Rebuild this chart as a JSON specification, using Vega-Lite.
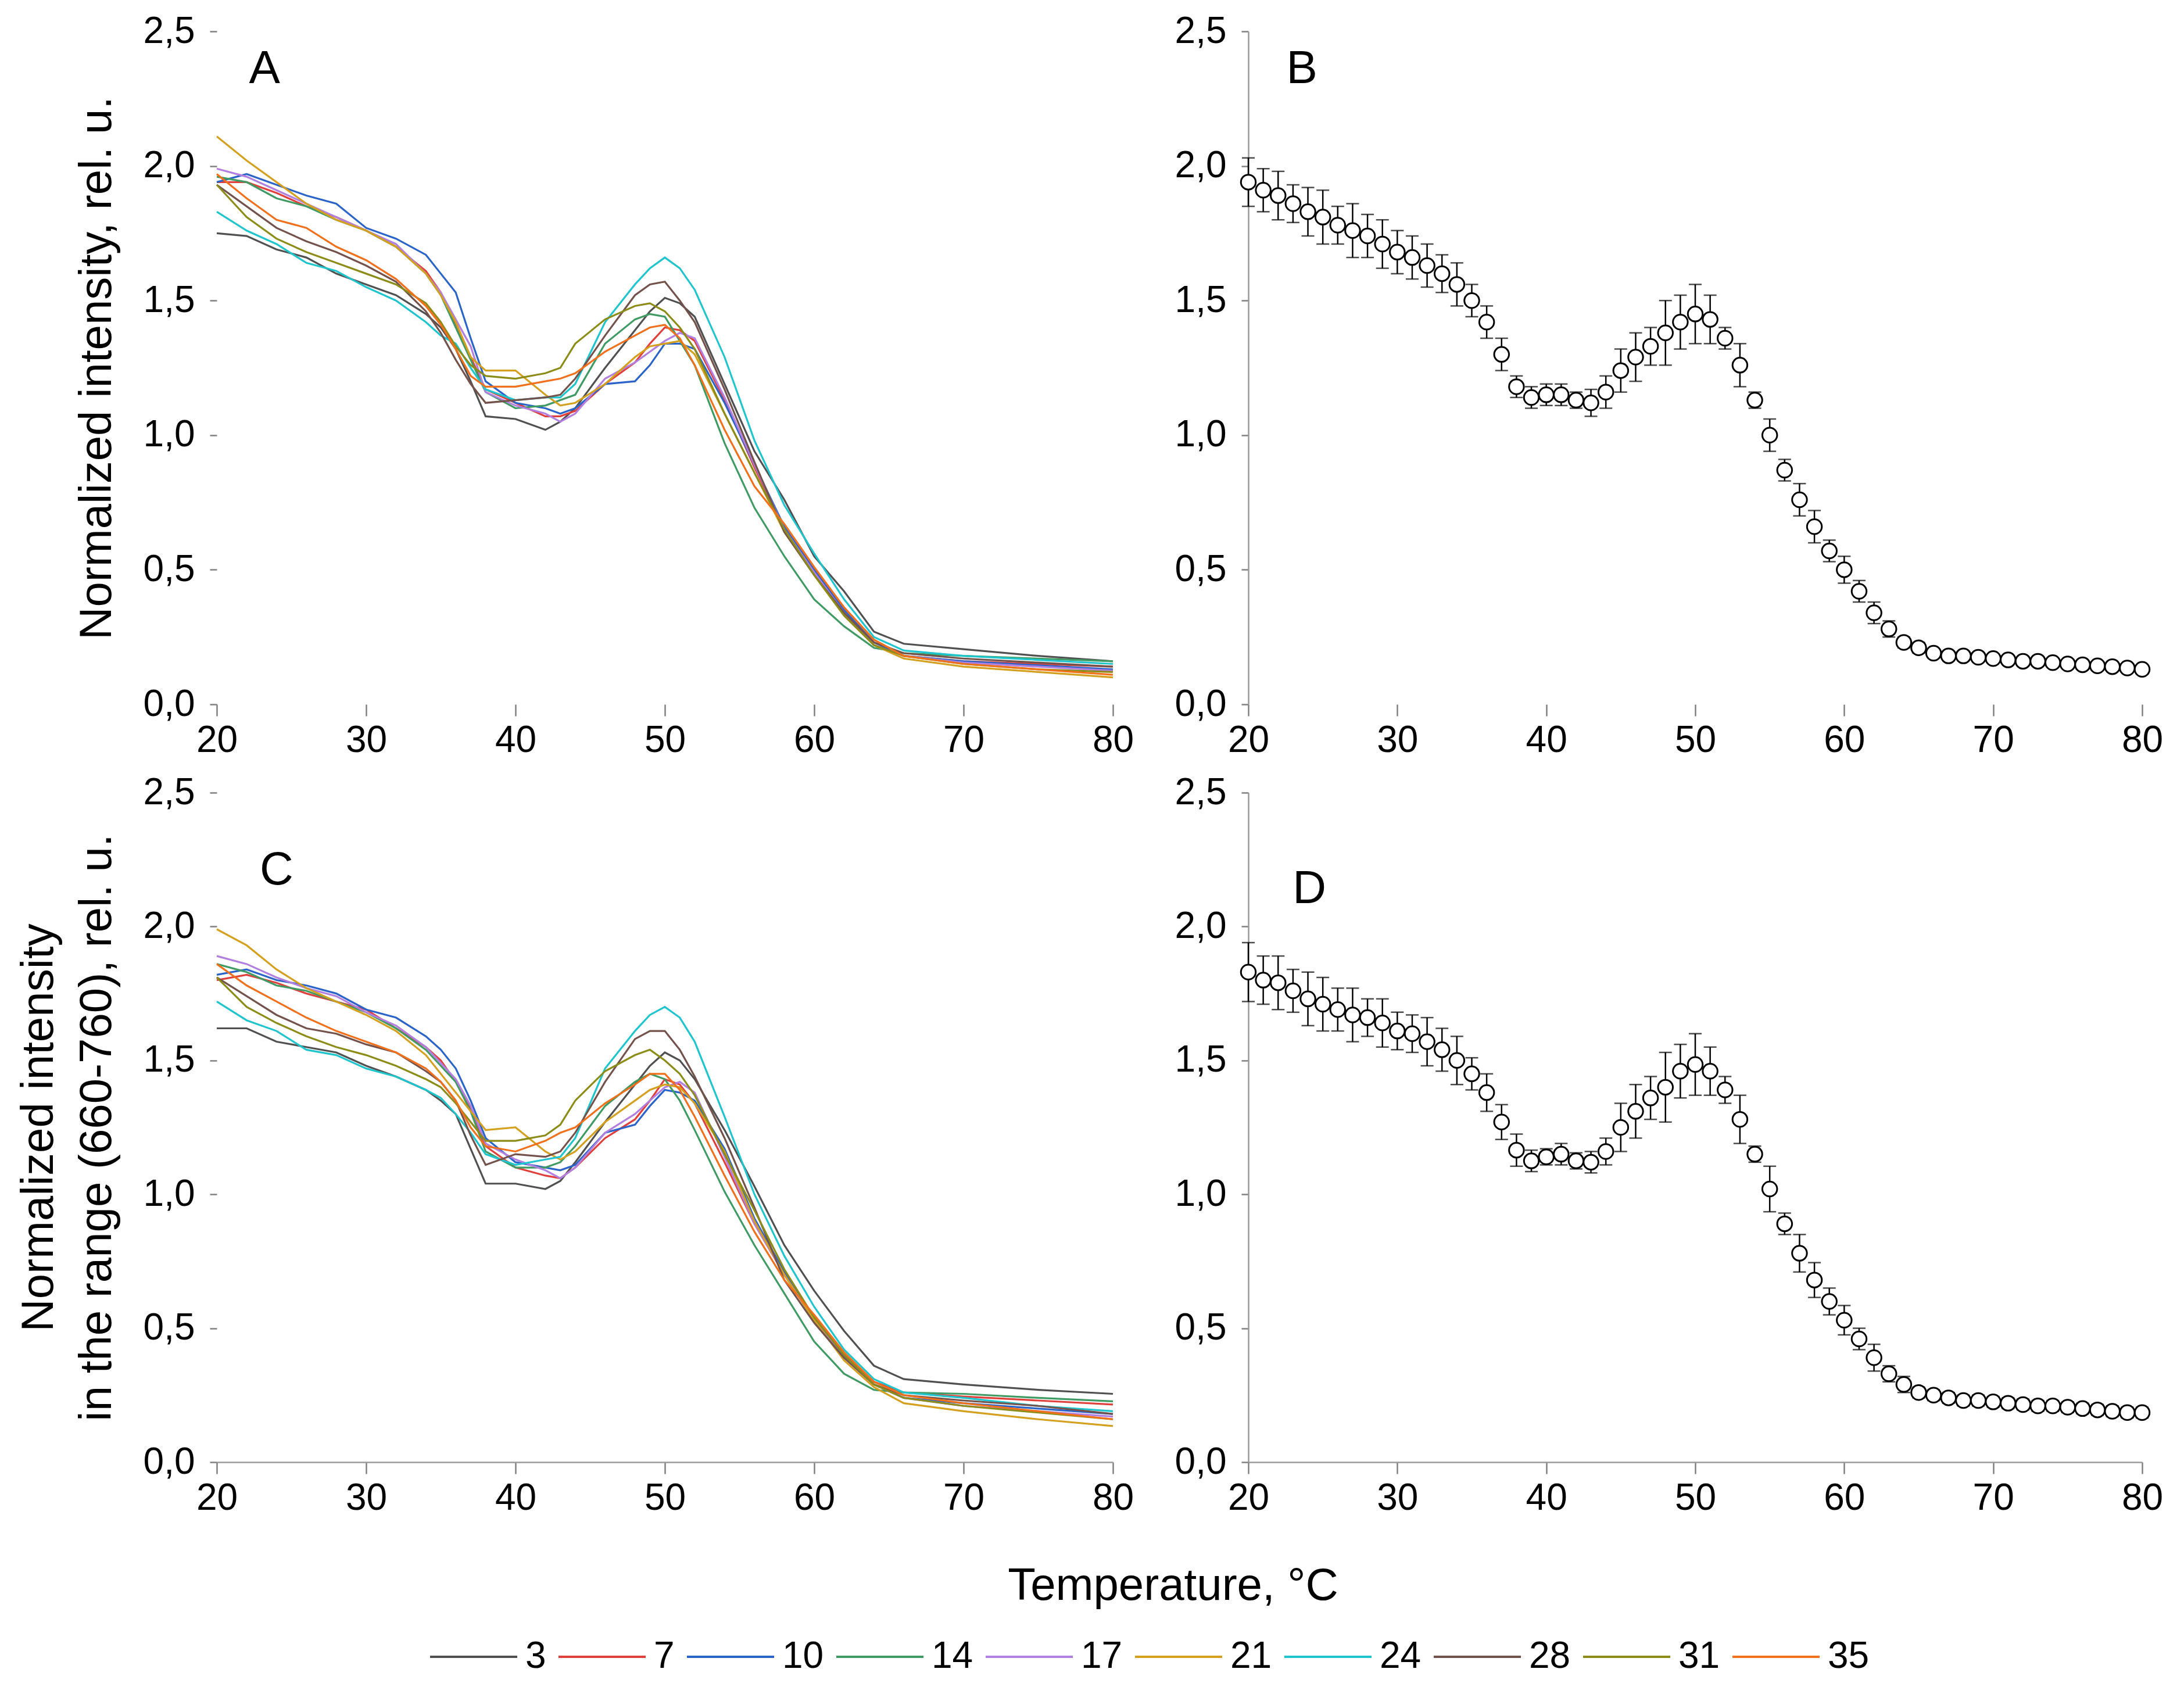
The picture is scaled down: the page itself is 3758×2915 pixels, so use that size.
{
"$schema":"https://vega.github.io/schema/vega-lite/v6.json",
"background":"white",
"padding":{"left":28,"top":22,"right":10,"bottom":10},
"config":{"font":"Liberation Sans","view":{"stroke":null},
"axis":{"labelFont":"Liberation Sans","labelFontSize":64,"labelColor":"#000","titleFont":"Liberation Sans","titleFontSize":78,"titleFontWeight":"normal","titleColor":"#000","grid":false,"tickColor":"#808080","domainColor":"#9a9a9a","tickWidth":2.5,"domainWidth":2.5,"labelFlush":false,"labelOverlap":false}},
"datasets":{
"lA":[
{"s":"3","t":20,"v":1.75},{"s":"3","t":22,"v":1.74},{"s":"3","t":24,"v":1.69},{"s":"3","t":26,"v":1.66},{"s":"3","t":28,"v":1.60},{"s":"3","t":30,"v":1.56},{"s":"3","t":32,"v":1.52},{"s":"3","t":34,"v":1.45},{"s":"3","t":35,"v":1.40},{"s":"3","t":36,"v":1.32},{"s":"3","t":37,"v":1.20},{"s":"3","t":38,"v":1.07},{"s":"3","t":40,"v":1.06},{"s":"3","t":42,"v":1.02},{"s":"3","t":43,"v":1.05},{"s":"3","t":44,"v":1.10},{"s":"3","t":46,"v":1.25},{"s":"3","t":48,"v":1.39},{"s":"3","t":49,"v":1.46},{"s":"3","t":50,"v":1.51},{"s":"3","t":51,"v":1.49},{"s":"3","t":52,"v":1.44},{"s":"3","t":54,"v":1.19},{"s":"3","t":56,"v":0.94},{"s":"3","t":58,"v":0.76},{"s":"3","t":60,"v":0.55},{"s":"3","t":62,"v":0.42},{"s":"3","t":64,"v":0.27},{"s":"3","t":66,"v":0.225},{"s":"3","t":70,"v":0.205},{"s":"3","t":75,"v":0.18},{"s":"3","t":80,"v":0.16},
{"s":"7","t":20,"v":1.94},{"s":"7","t":22,"v":1.94},{"s":"7","t":24,"v":1.90},{"s":"7","t":26,"v":1.85},{"s":"7","t":28,"v":1.81},{"s":"7","t":30,"v":1.76},{"s":"7","t":32,"v":1.70},{"s":"7","t":34,"v":1.61},{"s":"7","t":35,"v":1.53},{"s":"7","t":36,"v":1.41},{"s":"7","t":37,"v":1.29},{"s":"7","t":38,"v":1.17},{"s":"7","t":40,"v":1.12},{"s":"7","t":42,"v":1.07},{"s":"7","t":43,"v":1.07},{"s":"7","t":44,"v":1.09},{"s":"7","t":46,"v":1.19},{"s":"7","t":48,"v":1.27},{"s":"7","t":49,"v":1.34},{"s":"7","t":50,"v":1.40},{"s":"7","t":51,"v":1.39},{"s":"7","t":52,"v":1.35},{"s":"7","t":54,"v":1.13},{"s":"7","t":56,"v":0.88},{"s":"7","t":58,"v":0.65},{"s":"7","t":60,"v":0.50},{"s":"7","t":62,"v":0.36},{"s":"7","t":64,"v":0.24},{"s":"7","t":66,"v":0.18},{"s":"7","t":70,"v":0.16},{"s":"7","t":75,"v":0.15},{"s":"7","t":80,"v":0.14},
{"s":"10","t":20,"v":1.94},{"s":"10","t":22,"v":1.97},{"s":"10","t":24,"v":1.93},{"s":"10","t":26,"v":1.89},{"s":"10","t":28,"v":1.86},{"s":"10","t":30,"v":1.77},{"s":"10","t":32,"v":1.73},{"s":"10","t":34,"v":1.67},{"s":"10","t":35,"v":1.60},{"s":"10","t":36,"v":1.53},{"s":"10","t":37,"v":1.36},{"s":"10","t":38,"v":1.20},{"s":"10","t":40,"v":1.12},{"s":"10","t":42,"v":1.10},{"s":"10","t":43,"v":1.08},{"s":"10","t":44,"v":1.10},{"s":"10","t":46,"v":1.19},{"s":"10","t":48,"v":1.20},{"s":"10","t":49,"v":1.26},{"s":"10","t":50,"v":1.34},{"s":"10","t":51,"v":1.34},{"s":"10","t":52,"v":1.32},{"s":"10","t":54,"v":1.12},{"s":"10","t":56,"v":0.89},{"s":"10","t":58,"v":0.66},{"s":"10","t":60,"v":0.50},{"s":"10","t":62,"v":0.35},{"s":"10","t":64,"v":0.23},{"s":"10","t":66,"v":0.18},{"s":"10","t":70,"v":0.16},{"s":"10","t":75,"v":0.145},{"s":"10","t":80,"v":0.13},
{"s":"14","t":20,"v":1.96},{"s":"14","t":22,"v":1.94},{"s":"14","t":24,"v":1.88},{"s":"14","t":26,"v":1.85},{"s":"14","t":28,"v":1.80},{"s":"14","t":30,"v":1.76},{"s":"14","t":32,"v":1.70},{"s":"14","t":34,"v":1.60},{"s":"14","t":35,"v":1.52},{"s":"14","t":36,"v":1.40},{"s":"14","t":37,"v":1.28},{"s":"14","t":38,"v":1.16},{"s":"14","t":40,"v":1.10},{"s":"14","t":42,"v":1.11},{"s":"14","t":43,"v":1.13},{"s":"14","t":44,"v":1.15},{"s":"14","t":46,"v":1.34},{"s":"14","t":48,"v":1.43},{"s":"14","t":49,"v":1.45},{"s":"14","t":50,"v":1.44},{"s":"14","t":51,"v":1.35},{"s":"14","t":52,"v":1.26},{"s":"14","t":54,"v":0.97},{"s":"14","t":56,"v":0.73},{"s":"14","t":58,"v":0.55},{"s":"14","t":60,"v":0.39},{"s":"14","t":62,"v":0.29},{"s":"14","t":64,"v":0.21},{"s":"14","t":66,"v":0.19},{"s":"14","t":70,"v":0.18},{"s":"14","t":75,"v":0.17},{"s":"14","t":80,"v":0.16},
{"s":"17","t":20,"v":1.99},{"s":"17","t":22,"v":1.96},{"s":"17","t":24,"v":1.91},{"s":"17","t":26,"v":1.86},{"s":"17","t":28,"v":1.81},{"s":"17","t":30,"v":1.76},{"s":"17","t":32,"v":1.71},{"s":"17","t":34,"v":1.60},{"s":"17","t":35,"v":1.53},{"s":"17","t":36,"v":1.43},{"s":"17","t":37,"v":1.33},{"s":"17","t":38,"v":1.16},{"s":"17","t":40,"v":1.11},{"s":"17","t":42,"v":1.08},{"s":"17","t":43,"v":1.05},{"s":"17","t":44,"v":1.08},{"s":"17","t":46,"v":1.21},{"s":"17","t":48,"v":1.27},{"s":"17","t":49,"v":1.31},{"s":"17","t":50,"v":1.35},{"s":"17","t":51,"v":1.38},{"s":"17","t":52,"v":1.36},{"s":"17","t":54,"v":1.14},{"s":"17","t":56,"v":0.89},{"s":"17","t":58,"v":0.65},{"s":"17","t":60,"v":0.49},{"s":"17","t":62,"v":0.34},{"s":"17","t":64,"v":0.22},{"s":"17","t":66,"v":0.18},{"s":"17","t":70,"v":0.155},{"s":"17","t":75,"v":0.14},{"s":"17","t":80,"v":0.125},
{"s":"21","t":20,"v":2.11},{"s":"21","t":22,"v":2.02},{"s":"21","t":24,"v":1.94},{"s":"21","t":26,"v":1.86},{"s":"21","t":28,"v":1.80},{"s":"21","t":30,"v":1.76},{"s":"21","t":32,"v":1.70},{"s":"21","t":34,"v":1.60},{"s":"21","t":35,"v":1.52},{"s":"21","t":36,"v":1.42},{"s":"21","t":37,"v":1.29},{"s":"21","t":38,"v":1.24},{"s":"21","t":40,"v":1.24},{"s":"21","t":42,"v":1.15},{"s":"21","t":43,"v":1.11},{"s":"21","t":44,"v":1.12},{"s":"21","t":46,"v":1.19},{"s":"21","t":48,"v":1.29},{"s":"21","t":49,"v":1.33},{"s":"21","t":50,"v":1.34},{"s":"21","t":51,"v":1.35},{"s":"21","t":52,"v":1.30},{"s":"21","t":54,"v":1.08},{"s":"21","t":56,"v":0.86},{"s":"21","t":58,"v":0.64},{"s":"21","t":60,"v":0.48},{"s":"21","t":62,"v":0.33},{"s":"21","t":64,"v":0.22},{"s":"21","t":66,"v":0.17},{"s":"21","t":70,"v":0.14},{"s":"21","t":75,"v":0.12},{"s":"21","t":80,"v":0.10},
{"s":"24","t":20,"v":1.83},{"s":"24","t":22,"v":1.76},{"s":"24","t":24,"v":1.71},{"s":"24","t":26,"v":1.64},{"s":"24","t":28,"v":1.61},{"s":"24","t":30,"v":1.55},{"s":"24","t":32,"v":1.50},{"s":"24","t":34,"v":1.42},{"s":"24","t":35,"v":1.37},{"s":"24","t":36,"v":1.34},{"s":"24","t":37,"v":1.25},{"s":"24","t":38,"v":1.17},{"s":"24","t":40,"v":1.13},{"s":"24","t":42,"v":1.14},{"s":"24","t":43,"v":1.14},{"s":"24","t":44,"v":1.19},{"s":"24","t":46,"v":1.42},{"s":"24","t":48,"v":1.56},{"s":"24","t":49,"v":1.62},{"s":"24","t":50,"v":1.66},{"s":"24","t":51,"v":1.62},{"s":"24","t":52,"v":1.54},{"s":"24","t":54,"v":1.29},{"s":"24","t":56,"v":0.98},{"s":"24","t":58,"v":0.74},{"s":"24","t":60,"v":0.56},{"s":"24","t":62,"v":0.39},{"s":"24","t":64,"v":0.25},{"s":"24","t":66,"v":0.20},{"s":"24","t":70,"v":0.18},{"s":"24","t":75,"v":0.165},{"s":"24","t":80,"v":0.15},
{"s":"28","t":20,"v":1.93},{"s":"28","t":22,"v":1.85},{"s":"28","t":24,"v":1.77},{"s":"28","t":26,"v":1.72},{"s":"28","t":28,"v":1.68},{"s":"28","t":30,"v":1.63},{"s":"28","t":32,"v":1.57},{"s":"28","t":34,"v":1.46},{"s":"28","t":35,"v":1.38},{"s":"28","t":36,"v":1.28},{"s":"28","t":37,"v":1.19},{"s":"28","t":38,"v":1.12},{"s":"28","t":40,"v":1.13},{"s":"28","t":42,"v":1.14},{"s":"28","t":43,"v":1.15},{"s":"28","t":44,"v":1.21},{"s":"28","t":46,"v":1.37},{"s":"28","t":48,"v":1.52},{"s":"28","t":49,"v":1.56},{"s":"28","t":50,"v":1.57},{"s":"28","t":51,"v":1.50},{"s":"28","t":52,"v":1.42},{"s":"28","t":54,"v":1.17},{"s":"28","t":56,"v":0.90},{"s":"28","t":58,"v":0.64},{"s":"28","t":60,"v":0.48},{"s":"28","t":62,"v":0.34},{"s":"28","t":64,"v":0.23},{"s":"28","t":66,"v":0.19},{"s":"28","t":70,"v":0.17},{"s":"28","t":75,"v":0.155},{"s":"28","t":80,"v":0.14},
{"s":"31","t":20,"v":1.93},{"s":"31","t":22,"v":1.81},{"s":"31","t":24,"v":1.73},{"s":"31","t":26,"v":1.68},{"s":"31","t":28,"v":1.64},{"s":"31","t":30,"v":1.60},{"s":"31","t":32,"v":1.56},{"s":"31","t":34,"v":1.49},{"s":"31","t":35,"v":1.42},{"s":"31","t":36,"v":1.33},{"s":"31","t":37,"v":1.26},{"s":"31","t":38,"v":1.22},{"s":"31","t":40,"v":1.21},{"s":"31","t":42,"v":1.23},{"s":"31","t":43,"v":1.25},{"s":"31","t":44,"v":1.34},{"s":"31","t":46,"v":1.43},{"s":"31","t":48,"v":1.48},{"s":"31","t":49,"v":1.49},{"s":"31","t":50,"v":1.46},{"s":"31","t":51,"v":1.40},{"s":"31","t":52,"v":1.32},{"s":"31","t":54,"v":1.08},{"s":"31","t":56,"v":0.86},{"s":"31","t":58,"v":0.65},{"s":"31","t":60,"v":0.48},{"s":"31","t":62,"v":0.33},{"s":"31","t":64,"v":0.22},{"s":"31","t":66,"v":0.18},{"s":"31","t":70,"v":0.15},{"s":"31","t":75,"v":0.13},{"s":"31","t":80,"v":0.12},
{"s":"35","t":20,"v":1.97},{"s":"35","t":22,"v":1.88},{"s":"35","t":24,"v":1.80},{"s":"35","t":26,"v":1.77},{"s":"35","t":28,"v":1.70},{"s":"35","t":30,"v":1.65},{"s":"35","t":32,"v":1.58},{"s":"35","t":34,"v":1.48},{"s":"35","t":35,"v":1.41},{"s":"35","t":36,"v":1.32},{"s":"35","t":37,"v":1.22},{"s":"35","t":38,"v":1.18},{"s":"35","t":40,"v":1.18},{"s":"35","t":42,"v":1.20},{"s":"35","t":43,"v":1.21},{"s":"35","t":44,"v":1.23},{"s":"35","t":46,"v":1.31},{"s":"35","t":48,"v":1.37},{"s":"35","t":49,"v":1.40},{"s":"35","t":50,"v":1.41},{"s":"35","t":51,"v":1.36},{"s":"35","t":52,"v":1.26},{"s":"35","t":54,"v":1.02},{"s":"35","t":56,"v":0.81},{"s":"35","t":58,"v":0.67},{"s":"35","t":60,"v":0.51},{"s":"35","t":62,"v":0.36},{"s":"35","t":64,"v":0.24},{"s":"35","t":66,"v":0.18},{"s":"35","t":70,"v":0.15},{"s":"35","t":75,"v":0.13},{"s":"35","t":80,"v":0.11}
],
"lC":[
{"s":"3","t":20,"v":1.62},{"s":"3","t":22,"v":1.62},{"s":"3","t":24,"v":1.57},{"s":"3","t":26,"v":1.55},{"s":"3","t":28,"v":1.53},{"s":"3","t":30,"v":1.48},{"s":"3","t":32,"v":1.44},{"s":"3","t":34,"v":1.39},{"s":"3","t":35,"v":1.35},{"s":"3","t":36,"v":1.30},{"s":"3","t":37,"v":1.17},{"s":"3","t":38,"v":1.04},{"s":"3","t":40,"v":1.04},{"s":"3","t":42,"v":1.02},{"s":"3","t":43,"v":1.05},{"s":"3","t":44,"v":1.12},{"s":"3","t":46,"v":1.27},{"s":"3","t":48,"v":1.41},{"s":"3","t":49,"v":1.48},{"s":"3","t":50,"v":1.53},{"s":"3","t":51,"v":1.50},{"s":"3","t":52,"v":1.43},{"s":"3","t":54,"v":1.24},{"s":"3","t":56,"v":1.03},{"s":"3","t":58,"v":0.81},{"s":"3","t":60,"v":0.64},{"s":"3","t":62,"v":0.49},{"s":"3","t":64,"v":0.36},{"s":"3","t":66,"v":0.31},{"s":"3","t":70,"v":0.29},{"s":"3","t":75,"v":0.27},{"s":"3","t":80,"v":0.255},
{"s":"7","t":20,"v":1.80},{"s":"7","t":22,"v":1.82},{"s":"7","t":24,"v":1.79},{"s":"7","t":26,"v":1.75},{"s":"7","t":28,"v":1.72},{"s":"7","t":30,"v":1.69},{"s":"7","t":32,"v":1.62},{"s":"7","t":34,"v":1.55},{"s":"7","t":35,"v":1.50},{"s":"7","t":36,"v":1.42},{"s":"7","t":37,"v":1.32},{"s":"7","t":38,"v":1.18},{"s":"7","t":40,"v":1.10},{"s":"7","t":42,"v":1.07},{"s":"7","t":43,"v":1.06},{"s":"7","t":44,"v":1.10},{"s":"7","t":46,"v":1.21},{"s":"7","t":48,"v":1.28},{"s":"7","t":49,"v":1.35},{"s":"7","t":50,"v":1.43},{"s":"7","t":51,"v":1.41},{"s":"7","t":52,"v":1.34},{"s":"7","t":54,"v":1.12},{"s":"7","t":56,"v":0.89},{"s":"7","t":58,"v":0.70},{"s":"7","t":60,"v":0.53},{"s":"7","t":62,"v":0.40},{"s":"7","t":64,"v":0.30},{"s":"7","t":66,"v":0.26},{"s":"7","t":70,"v":0.245},{"s":"7","t":75,"v":0.23},{"s":"7","t":80,"v":0.215},
{"s":"10","t":20,"v":1.82},{"s":"10","t":22,"v":1.84},{"s":"10","t":24,"v":1.80},{"s":"10","t":26,"v":1.78},{"s":"10","t":28,"v":1.75},{"s":"10","t":30,"v":1.69},{"s":"10","t":32,"v":1.66},{"s":"10","t":34,"v":1.59},{"s":"10","t":35,"v":1.54},{"s":"10","t":36,"v":1.47},{"s":"10","t":37,"v":1.35},{"s":"10","t":38,"v":1.21},{"s":"10","t":40,"v":1.12},{"s":"10","t":42,"v":1.10},{"s":"10","t":43,"v":1.09},{"s":"10","t":44,"v":1.11},{"s":"10","t":46,"v":1.23},{"s":"10","t":48,"v":1.26},{"s":"10","t":49,"v":1.33},{"s":"10","t":50,"v":1.39},{"s":"10","t":51,"v":1.38},{"s":"10","t":52,"v":1.35},{"s":"10","t":54,"v":1.17},{"s":"10","t":56,"v":0.91},{"s":"10","t":58,"v":0.71},{"s":"10","t":60,"v":0.54},{"s":"10","t":62,"v":0.40},{"s":"10","t":64,"v":0.29},{"s":"10","t":66,"v":0.24},{"s":"10","t":70,"v":0.22},{"s":"10","t":75,"v":0.20},{"s":"10","t":80,"v":0.18},
{"s":"14","t":20,"v":1.86},{"s":"14","t":22,"v":1.83},{"s":"14","t":24,"v":1.78},{"s":"14","t":26,"v":1.76},{"s":"14","t":28,"v":1.72},{"s":"14","t":30,"v":1.68},{"s":"14","t":32,"v":1.62},{"s":"14","t":34,"v":1.54},{"s":"14","t":35,"v":1.48},{"s":"14","t":36,"v":1.42},{"s":"14","t":37,"v":1.31},{"s":"14","t":38,"v":1.16},{"s":"14","t":40,"v":1.10},{"s":"14","t":42,"v":1.10},{"s":"14","t":43,"v":1.12},{"s":"14","t":44,"v":1.18},{"s":"14","t":46,"v":1.33},{"s":"14","t":48,"v":1.42},{"s":"14","t":49,"v":1.45},{"s":"14","t":50,"v":1.43},{"s":"14","t":51,"v":1.35},{"s":"14","t":52,"v":1.24},{"s":"14","t":54,"v":1.01},{"s":"14","t":56,"v":0.81},{"s":"14","t":58,"v":0.63},{"s":"14","t":60,"v":0.45},{"s":"14","t":62,"v":0.33},{"s":"14","t":64,"v":0.27},{"s":"14","t":66,"v":0.26},{"s":"14","t":70,"v":0.255},{"s":"14","t":75,"v":0.24},{"s":"14","t":80,"v":0.227},
{"s":"17","t":20,"v":1.89},{"s":"17","t":22,"v":1.86},{"s":"17","t":24,"v":1.81},{"s":"17","t":26,"v":1.77},{"s":"17","t":28,"v":1.74},{"s":"17","t":30,"v":1.68},{"s":"17","t":32,"v":1.63},{"s":"17","t":34,"v":1.55},{"s":"17","t":35,"v":1.49},{"s":"17","t":36,"v":1.43},{"s":"17","t":37,"v":1.33},{"s":"17","t":38,"v":1.19},{"s":"17","t":40,"v":1.13},{"s":"17","t":42,"v":1.09},{"s":"17","t":43,"v":1.06},{"s":"17","t":44,"v":1.10},{"s":"17","t":46,"v":1.23},{"s":"17","t":48,"v":1.30},{"s":"17","t":49,"v":1.35},{"s":"17","t":50,"v":1.40},{"s":"17","t":51,"v":1.42},{"s":"17","t":52,"v":1.38},{"s":"17","t":54,"v":1.14},{"s":"17","t":56,"v":0.89},{"s":"17","t":58,"v":0.70},{"s":"17","t":60,"v":0.53},{"s":"17","t":62,"v":0.39},{"s":"17","t":64,"v":0.29},{"s":"17","t":66,"v":0.24},{"s":"17","t":70,"v":0.21},{"s":"17","t":75,"v":0.19},{"s":"17","t":80,"v":0.17},
{"s":"21","t":20,"v":1.99},{"s":"21","t":22,"v":1.93},{"s":"21","t":24,"v":1.84},{"s":"21","t":26,"v":1.77},{"s":"21","t":28,"v":1.72},{"s":"21","t":30,"v":1.67},{"s":"21","t":32,"v":1.61},{"s":"21","t":34,"v":1.52},{"s":"21","t":35,"v":1.45},{"s":"21","t":36,"v":1.38},{"s":"21","t":37,"v":1.31},{"s":"21","t":38,"v":1.24},{"s":"21","t":40,"v":1.25},{"s":"21","t":42,"v":1.16},{"s":"21","t":43,"v":1.13},{"s":"21","t":44,"v":1.16},{"s":"21","t":46,"v":1.27},{"s":"21","t":48,"v":1.35},{"s":"21","t":49,"v":1.39},{"s":"21","t":50,"v":1.41},{"s":"21","t":51,"v":1.40},{"s":"21","t":52,"v":1.34},{"s":"21","t":54,"v":1.16},{"s":"21","t":56,"v":0.90},{"s":"21","t":58,"v":0.70},{"s":"21","t":60,"v":0.53},{"s":"21","t":62,"v":0.38},{"s":"21","t":64,"v":0.28},{"s":"21","t":66,"v":0.22},{"s":"21","t":70,"v":0.19},{"s":"21","t":75,"v":0.16},{"s":"21","t":80,"v":0.135},
{"s":"24","t":20,"v":1.72},{"s":"24","t":22,"v":1.65},{"s":"24","t":24,"v":1.61},{"s":"24","t":26,"v":1.54},{"s":"24","t":28,"v":1.52},{"s":"24","t":30,"v":1.47},{"s":"24","t":32,"v":1.44},{"s":"24","t":34,"v":1.39},{"s":"24","t":35,"v":1.36},{"s":"24","t":36,"v":1.30},{"s":"24","t":37,"v":1.23},{"s":"24","t":38,"v":1.15},{"s":"24","t":40,"v":1.11},{"s":"24","t":42,"v":1.13},{"s":"24","t":43,"v":1.14},{"s":"24","t":44,"v":1.21},{"s":"24","t":46,"v":1.47},{"s":"24","t":48,"v":1.61},{"s":"24","t":49,"v":1.67},{"s":"24","t":50,"v":1.70},{"s":"24","t":51,"v":1.66},{"s":"24","t":52,"v":1.57},{"s":"24","t":54,"v":1.29},{"s":"24","t":56,"v":1.00},{"s":"24","t":58,"v":0.77},{"s":"24","t":60,"v":0.58},{"s":"24","t":62,"v":0.42},{"s":"24","t":64,"v":0.31},{"s":"24","t":66,"v":0.26},{"s":"24","t":70,"v":0.24},{"s":"24","t":75,"v":0.21},{"s":"24","t":80,"v":0.19},
{"s":"28","t":20,"v":1.81},{"s":"28","t":22,"v":1.74},{"s":"28","t":24,"v":1.67},{"s":"28","t":26,"v":1.62},{"s":"28","t":28,"v":1.60},{"s":"28","t":30,"v":1.56},{"s":"28","t":32,"v":1.53},{"s":"28","t":34,"v":1.46},{"s":"28","t":35,"v":1.42},{"s":"28","t":36,"v":1.35},{"s":"28","t":37,"v":1.22},{"s":"28","t":38,"v":1.11},{"s":"28","t":40,"v":1.15},{"s":"28","t":42,"v":1.14},{"s":"28","t":43,"v":1.16},{"s":"28","t":44,"v":1.23},{"s":"28","t":46,"v":1.42},{"s":"28","t":48,"v":1.58},{"s":"28","t":49,"v":1.61},{"s":"28","t":50,"v":1.61},{"s":"28","t":51,"v":1.54},{"s":"28","t":52,"v":1.44},{"s":"28","t":54,"v":1.21},{"s":"28","t":56,"v":0.95},{"s":"28","t":58,"v":0.68},{"s":"28","t":60,"v":0.52},{"s":"28","t":62,"v":0.39},{"s":"28","t":64,"v":0.29},{"s":"28","t":66,"v":0.25},{"s":"28","t":70,"v":0.23},{"s":"28","t":75,"v":0.21},{"s":"28","t":80,"v":0.18},
{"s":"31","t":20,"v":1.81},{"s":"31","t":22,"v":1.70},{"s":"31","t":24,"v":1.64},{"s":"31","t":26,"v":1.59},{"s":"31","t":28,"v":1.55},{"s":"31","t":30,"v":1.52},{"s":"31","t":32,"v":1.48},{"s":"31","t":34,"v":1.43},{"s":"31","t":35,"v":1.40},{"s":"31","t":36,"v":1.34},{"s":"31","t":37,"v":1.27},{"s":"31","t":38,"v":1.20},{"s":"31","t":40,"v":1.20},{"s":"31","t":42,"v":1.22},{"s":"31","t":43,"v":1.26},{"s":"31","t":44,"v":1.35},{"s":"31","t":46,"v":1.46},{"s":"31","t":48,"v":1.52},{"s":"31","t":49,"v":1.54},{"s":"31","t":50,"v":1.50},{"s":"31","t":51,"v":1.45},{"s":"31","t":52,"v":1.37},{"s":"31","t":54,"v":1.15},{"s":"31","t":56,"v":0.94},{"s":"31","t":58,"v":0.72},{"s":"31","t":60,"v":0.54},{"s":"31","t":62,"v":0.40},{"s":"31","t":64,"v":0.29},{"s":"31","t":66,"v":0.24},{"s":"31","t":70,"v":0.21},{"s":"31","t":75,"v":0.185},{"s":"31","t":80,"v":0.16},
{"s":"35","t":20,"v":1.86},{"s":"35","t":22,"v":1.78},{"s":"35","t":24,"v":1.72},{"s":"35","t":26,"v":1.66},{"s":"35","t":28,"v":1.61},{"s":"35","t":30,"v":1.57},{"s":"35","t":32,"v":1.53},{"s":"35","t":34,"v":1.47},{"s":"35","t":35,"v":1.42},{"s":"35","t":36,"v":1.35},{"s":"35","t":37,"v":1.25},{"s":"35","t":38,"v":1.18},{"s":"35","t":40,"v":1.16},{"s":"35","t":42,"v":1.20},{"s":"35","t":43,"v":1.23},{"s":"35","t":44,"v":1.25},{"s":"35","t":46,"v":1.34},{"s":"35","t":48,"v":1.41},{"s":"35","t":49,"v":1.45},{"s":"35","t":50,"v":1.45},{"s":"35","t":51,"v":1.39},{"s":"35","t":52,"v":1.29},{"s":"35","t":54,"v":1.07},{"s":"35","t":56,"v":0.86},{"s":"35","t":58,"v":0.68},{"s":"35","t":60,"v":0.55},{"s":"35","t":62,"v":0.41},{"s":"35","t":64,"v":0.30},{"s":"35","t":66,"v":0.25},{"s":"35","t":70,"v":0.22},{"s":"35","t":75,"v":0.19},{"s":"35","t":80,"v":0.16}
],
"pB":[
{"t":20,"v":1.94,"lo":1.85,"hi":2.03},{"t":21,"v":1.91,"lo":1.83,"hi":1.99},{"t":22,"v":1.89,"lo":1.80,"hi":1.98},{"t":23,"v":1.86,"lo":1.79,"hi":1.93},{"t":24,"v":1.83,"lo":1.74,"hi":1.92},{"t":25,"v":1.81,"lo":1.71,"hi":1.91},{"t":26,"v":1.78,"lo":1.71,"hi":1.85},{"t":27,"v":1.76,"lo":1.66,"hi":1.86},{"t":28,"v":1.74,"lo":1.66,"hi":1.82},{"t":29,"v":1.71,"lo":1.62,"hi":1.80},{"t":30,"v":1.68,"lo":1.60,"hi":1.76},{"t":31,"v":1.66,"lo":1.58,"hi":1.74},{"t":32,"v":1.63,"lo":1.55,"hi":1.71},{"t":33,"v":1.60,"lo":1.53,"hi":1.67},{"t":34,"v":1.56,"lo":1.48,"hi":1.64},{"t":35,"v":1.50,"lo":1.44,"hi":1.56},{"t":36,"v":1.42,"lo":1.36,"hi":1.48},{"t":37,"v":1.30,"lo":1.24,"hi":1.36},{"t":38,"v":1.18,"lo":1.14,"hi":1.22},{"t":39,"v":1.14,"lo":1.10,"hi":1.18},{"t":40,"v":1.15,"lo":1.11,"hi":1.19},{"t":41,"v":1.15,"lo":1.11,"hi":1.19},{"t":42,"v":1.13,"lo":1.10,"hi":1.16},{"t":43,"v":1.12,"lo":1.07,"hi":1.17},{"t":44,"v":1.16,"lo":1.10,"hi":1.22},{"t":45,"v":1.24,"lo":1.16,"hi":1.32},{"t":46,"v":1.29,"lo":1.20,"hi":1.38},{"t":47,"v":1.33,"lo":1.26,"hi":1.40},{"t":48,"v":1.38,"lo":1.26,"hi":1.50},{"t":49,"v":1.42,"lo":1.32,"hi":1.52},{"t":50,"v":1.45,"lo":1.34,"hi":1.56},{"t":51,"v":1.43,"lo":1.34,"hi":1.52},{"t":52,"v":1.36,"lo":1.32,"hi":1.40},{"t":53,"v":1.26,"lo":1.18,"hi":1.34},{"t":54,"v":1.13,"lo":1.10,"hi":1.16},{"t":55,"v":1.00,"lo":0.94,"hi":1.06},{"t":56,"v":0.87,"lo":0.83,"hi":0.91},{"t":57,"v":0.76,"lo":0.70,"hi":0.82},{"t":58,"v":0.66,"lo":0.60,"hi":0.72},{"t":59,"v":0.57,"lo":0.53,"hi":0.61},{"t":60,"v":0.50,"lo":0.45,"hi":0.55},{"t":61,"v":0.42,"lo":0.38,"hi":0.46},{"t":62,"v":0.34,"lo":0.30,"hi":0.38},{"t":63,"v":0.28,"lo":0.25,"hi":0.31},{"t":64,"v":0.23,"lo":0.21,"hi":0.25},{"t":65,"v":0.21,"lo":0.19,"hi":0.23},{"t":66,"v":0.19,"lo":0.175,"hi":0.205},{"t":67,"v":0.18,"lo":0.165,"hi":0.195},{"t":68,"v":0.18,"lo":0.165,"hi":0.195},{"t":69,"v":0.175,"lo":0.16,"hi":0.19},{"t":70,"v":0.17,"lo":0.155,"hi":0.185},{"t":71,"v":0.165,"lo":0.15,"hi":0.18},{"t":72,"v":0.16,"lo":0.145,"hi":0.175},{"t":73,"v":0.16,"lo":0.145,"hi":0.175},{"t":74,"v":0.155,"lo":0.14,"hi":0.17},{"t":75,"v":0.15,"lo":0.135,"hi":0.165},{"t":76,"v":0.147,"lo":0.132,"hi":0.162},{"t":77,"v":0.143,"lo":0.128,"hi":0.158},{"t":78,"v":0.14,"lo":0.125,"hi":0.155},{"t":79,"v":0.135,"lo":0.12,"hi":0.15},{"t":80,"v":0.13,"lo":0.115,"hi":0.145}
],
"pD":[
{"t":20,"v":1.83,"lo":1.72,"hi":1.94},{"t":21,"v":1.80,"lo":1.71,"hi":1.89},{"t":22,"v":1.79,"lo":1.69,"hi":1.89},{"t":23,"v":1.76,"lo":1.68,"hi":1.84},{"t":24,"v":1.73,"lo":1.63,"hi":1.83},{"t":25,"v":1.71,"lo":1.61,"hi":1.81},{"t":26,"v":1.69,"lo":1.61,"hi":1.77},{"t":27,"v":1.67,"lo":1.57,"hi":1.77},{"t":28,"v":1.66,"lo":1.59,"hi":1.73},{"t":29,"v":1.64,"lo":1.55,"hi":1.73},{"t":30,"v":1.61,"lo":1.54,"hi":1.68},{"t":31,"v":1.60,"lo":1.53,"hi":1.67},{"t":32,"v":1.57,"lo":1.48,"hi":1.66},{"t":33,"v":1.54,"lo":1.46,"hi":1.62},{"t":34,"v":1.50,"lo":1.41,"hi":1.59},{"t":35,"v":1.45,"lo":1.39,"hi":1.51},{"t":36,"v":1.38,"lo":1.31,"hi":1.45},{"t":37,"v":1.27,"lo":1.205,"hi":1.335},{"t":38,"v":1.165,"lo":1.105,"hi":1.225},{"t":39,"v":1.125,"lo":1.085,"hi":1.165},{"t":40,"v":1.14,"lo":1.11,"hi":1.17},{"t":41,"v":1.15,"lo":1.11,"hi":1.19},{"t":42,"v":1.125,"lo":1.095,"hi":1.155},{"t":43,"v":1.12,"lo":1.08,"hi":1.16},{"t":44,"v":1.16,"lo":1.11,"hi":1.21},{"t":45,"v":1.25,"lo":1.16,"hi":1.34},{"t":46,"v":1.31,"lo":1.21,"hi":1.41},{"t":47,"v":1.36,"lo":1.28,"hi":1.44},{"t":48,"v":1.40,"lo":1.27,"hi":1.53},{"t":49,"v":1.46,"lo":1.36,"hi":1.56},{"t":50,"v":1.485,"lo":1.37,"hi":1.60},{"t":51,"v":1.46,"lo":1.37,"hi":1.55},{"t":52,"v":1.39,"lo":1.34,"hi":1.44},{"t":53,"v":1.28,"lo":1.19,"hi":1.37},{"t":54,"v":1.15,"lo":1.12,"hi":1.18},{"t":55,"v":1.02,"lo":0.935,"hi":1.105},{"t":56,"v":0.89,"lo":0.85,"hi":0.93},{"t":57,"v":0.78,"lo":0.71,"hi":0.85},{"t":58,"v":0.68,"lo":0.615,"hi":0.745},{"t":59,"v":0.60,"lo":0.55,"hi":0.65},{"t":60,"v":0.53,"lo":0.475,"hi":0.585},{"t":61,"v":0.46,"lo":0.42,"hi":0.50},{"t":62,"v":0.39,"lo":0.34,"hi":0.44},{"t":63,"v":0.33,"lo":0.30,"hi":0.36},{"t":64,"v":0.29,"lo":0.26,"hi":0.32},{"t":65,"v":0.26,"lo":0.24,"hi":0.28},{"t":66,"v":0.25,"lo":0.23,"hi":0.27},{"t":67,"v":0.24,"lo":0.22,"hi":0.26},{"t":68,"v":0.23,"lo":0.21,"hi":0.25},{"t":69,"v":0.23,"lo":0.21,"hi":0.25},{"t":70,"v":0.225,"lo":0.205,"hi":0.245},{"t":71,"v":0.22,"lo":0.20,"hi":0.24},{"t":72,"v":0.215,"lo":0.195,"hi":0.235},{"t":73,"v":0.21,"lo":0.19,"hi":0.23},{"t":74,"v":0.21,"lo":0.19,"hi":0.23},{"t":75,"v":0.205,"lo":0.185,"hi":0.225},{"t":76,"v":0.20,"lo":0.18,"hi":0.22},{"t":77,"v":0.195,"lo":0.175,"hi":0.215},{"t":78,"v":0.19,"lo":0.17,"hi":0.21},{"t":79,"v":0.185,"lo":0.165,"hi":0.205},{"t":80,"v":0.185,"lo":0.165,"hi":0.205}
]
},
"columns":2,
"spacing":{"row":152,"column":233},
"bounds":"flush",
"concat":[
{"width":1542,"height":1158,
 "layer":[
 {"data":{"name":"lA"},"mark":{"type":"line","strokeWidth":3.2},
  "encoding":{
   "x":{"field":"t","type":"quantitative","scale":{"domain":[20,80],"nice":false},"axis":{"values":[20,30,40,50,60,70,80],"title":null,"domain":false,"tickSize":20,"labelPadding":10}},
   "y":{"field":"v","type":"quantitative","scale":{"domain":[0,2.5],"nice":false},"axis":{"values":[0,0.5,1,1.5,2,2.5],"labelExpr":"replace(format(datum.value,'.1f'),'.',',')","domain":false,"tickSize":12,"labelPadding":26,"title":"Normalized intensity, rel. u.","titlePadding":40}},
   "color":{"field":"s","type":"nominal","scale":{"domain":["3","7","10","14","17","21","24","28","31","35"],"range":["#505050","#e0403c","#2a64c8","#3f9a63","#b07fe0","#d4a020","#20c4cc","#74524c","#8c8c18","#f0701c"]},
    "legend":{"orient":"none","legendX":365,"legendY":2720,"direction":"horizontal","title":null,"symbolType":"stroke","symbolSize":22500,"symbolStrokeWidth":4,"labelFontSize":64,"labelFont":"Liberation Sans","labelColor":"#000","labelOffset":12,"columnPadding":13,"padding":0}},
   "order":{"field":"t","type":"quantitative"}}},
 {"data":{"values":[{"k":"A"}]},"mark":{"type":"text","fontSize":80,"align":"center","baseline":"middle","color":"#000"},
  "encoding":{"x":{"datum":23.2,"type":"quantitative"},"y":{"datum":2.36,"type":"quantitative"},"text":{"field":"k"}}}
 ]},
{"width":1538,"height":1158,
 "layer":[
 {"data":{"name":"pB"},"mark":{"type":"errorbar","ticks":true,"thickness":2.5,"size":22,"color":"#000"},
  "encoding":{
   "x":{"field":"t","type":"quantitative","scale":{"domain":[20,80],"nice":false},"axis":{"values":[20,30,40,50,60,70,80],"title":null,"domain":false,"tickSize":20,"labelPadding":10}},
   "y":{"field":"lo","type":"quantitative","scale":{"domain":[0,2.5],"nice":false},"axis":{"values":[0,0.5,1,1.5,2,2.5],"labelExpr":"replace(format(datum.value,'.1f'),'.',',')","domain":true,"tickSize":12,"labelPadding":26,"title":null}},
   "y2":{"field":"hi"}}},
 {"data":{"name":"pB"},"mark":{"type":"point","shape":"circle","filled":true,"fill":"#fff","stroke":"#000","strokeWidth":3,"size":650,"opacity":1},
  "encoding":{
   "x":{"field":"t","type":"quantitative","scale":{"domain":[20,80],"nice":false},"axis":{"values":[20,30,40,50,60,70,80],"title":null,"domain":false,"tickSize":20,"labelPadding":10}},
   "y":{"field":"v","type":"quantitative","scale":{"domain":[0,2.5],"nice":false},"axis":{"values":[0,0.5,1,1.5,2,2.5],"labelExpr":"replace(format(datum.value,'.1f'),'.',',')","domain":true,"tickSize":12,"labelPadding":26,"title":null}}}},
 {"data":{"values":[{"k":"B"}]},"mark":{"type":"text","fontSize":80,"align":"center","baseline":"middle","color":"#000"},
  "encoding":{"x":{"datum":23.6,"type":"quantitative"},"y":{"datum":2.36,"type":"quantitative"},"text":{"field":"k"}}}
 ]},
{"width":1542,"height":1152,
 "layer":[
 {"data":{"name":"lC"},"mark":{"type":"line","strokeWidth":3.2},
  "encoding":{
   "x":{"field":"t","type":"quantitative","scale":{"domain":[20,80],"nice":false},"axis":{"values":[20,30,40,50,60,70,80],"title":"Temperature, °C","titleX":1645,"titleY":236,"titleAlign":"center","titleBaseline":"alphabetic","domain":true,"tickSize":20,"labelPadding":10}},
   "y":{"field":"v","type":"quantitative","scale":{"domain":[0,2.5],"nice":false},"axis":{"values":[0,0.5,1,1.5,2,2.5],"labelExpr":"replace(format(datum.value,'.1f'),'.',',')","domain":false,"tickSize":12,"labelPadding":26,"title":["Normalized intensity","in the range (660-760), rel. u."],"titlePadding":40,"titleLineHeight":100}},
   "color":{"field":"s","type":"nominal","scale":{"domain":["3","7","10","14","17","21","24","28","31","35"],"range":["#505050","#e0403c","#2a64c8","#3f9a63","#b07fe0","#d4a020","#20c4cc","#74524c","#8c8c18","#f0701c"]},
    "legend":{"orient":"none","legendX":365,"legendY":2720,"direction":"horizontal","title":null,"symbolType":"stroke","symbolSize":22500,"symbolStrokeWidth":4,"labelFontSize":64,"labelFont":"Liberation Sans","labelColor":"#000","labelOffset":12,"columnPadding":13,"padding":0}},
   "order":{"field":"t","type":"quantitative"}}},
 {"data":{"values":[{"k":"C"}]},"mark":{"type":"text","fontSize":80,"align":"center","baseline":"middle","color":"#000"},
  "encoding":{"x":{"datum":24.0,"type":"quantitative"},"y":{"datum":2.21,"type":"quantitative"},"text":{"field":"k"}}}
 ]},
{"width":1538,"height":1152,
 "layer":[
 {"data":{"name":"pD"},"mark":{"type":"errorbar","ticks":true,"thickness":2.5,"size":22,"color":"#000"},
  "encoding":{
   "x":{"field":"t","type":"quantitative","scale":{"domain":[20,80],"nice":false},"axis":{"values":[20,30,40,50,60,70,80],"title":null,"domain":true,"tickSize":20,"labelPadding":10}},
   "y":{"field":"lo","type":"quantitative","scale":{"domain":[0,2.5],"nice":false},"axis":{"values":[0,0.5,1,1.5,2,2.5],"labelExpr":"replace(format(datum.value,'.1f'),'.',',')","domain":true,"tickSize":12,"labelPadding":26,"title":null}},
   "y2":{"field":"hi"}}},
 {"data":{"name":"pD"},"mark":{"type":"point","shape":"circle","filled":true,"fill":"#fff","stroke":"#000","strokeWidth":3,"size":650,"opacity":1},
  "encoding":{
   "x":{"field":"t","type":"quantitative","scale":{"domain":[20,80],"nice":false},"axis":{"values":[20,30,40,50,60,70,80],"title":null,"domain":true,"tickSize":20,"labelPadding":10}},
   "y":{"field":"v","type":"quantitative","scale":{"domain":[0,2.5],"nice":false},"axis":{"values":[0,0.5,1,1.5,2,2.5],"labelExpr":"replace(format(datum.value,'.1f'),'.',',')","domain":true,"tickSize":12,"labelPadding":26,"title":null}}}},
 {"data":{"values":[{"k":"D"}]},"mark":{"type":"text","fontSize":80,"align":"center","baseline":"middle","color":"#000"},
  "encoding":{"x":{"datum":24.1,"type":"quantitative"},"y":{"datum":2.14,"type":"quantitative"},"text":{"field":"k"}}}
 ]}
]
}
